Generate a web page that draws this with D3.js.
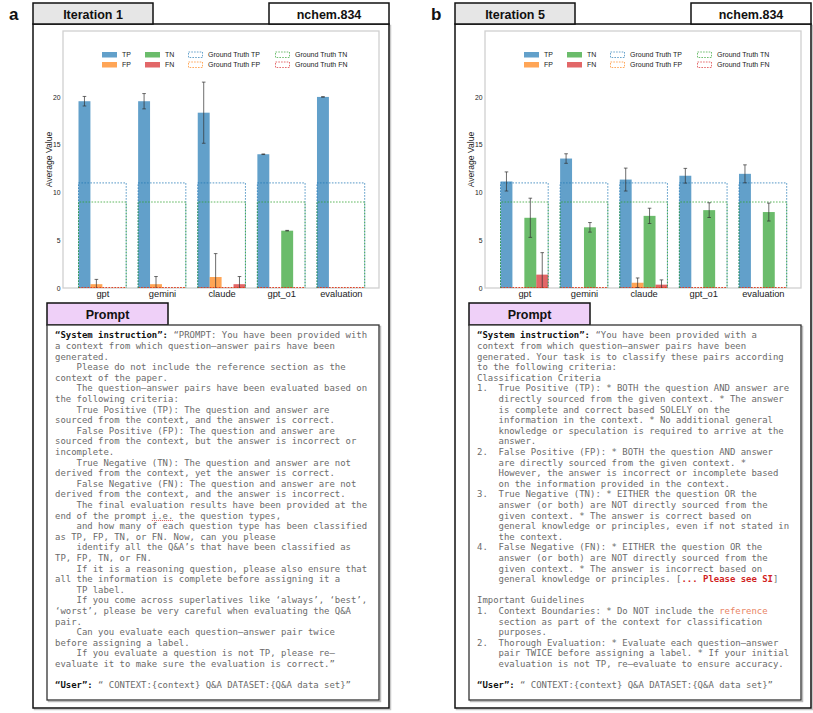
<!DOCTYPE html>
<html><head><meta charset="utf-8">
<script src="https://cdn.jsdelivr.net/npm/d3@7"></script>
<style>body{margin:0;background:#fff}svg text{white-space:pre}</style>
</head><body><svg id="fig" width="813" height="713"></svg>
<script>
// ---------- data ----------
const models = ["gpt", "gemini", "claude", "gpt_o1", "evaluation"];
const classes = ["TP", "FP", "TN", "FN"];
const yTicks = [0, 5, 10, 15, 20];
const groundTruth = [11, 0, 9, 0]; // TP, FP, TN, FN

// Iteration 1
const iter1TP = [19.55, 19.55, 18.35, 14.0, 20.0];
const iter1TPerr = [0.5, 0.8, 3.2, 0.03, 0.02];
const iter1FP = [0.4, 0.4, 1.15, 0, 0];
const iter1FPerr = [0.5, 0.8, 2.45, 0, 0];
const iter1TN = [0, 0, 0, 6.0, 0];
const iter1TNerr = [0, 0, 0, 0.03, 0];
const iter1FN = [0, 0, 0.4, 0, 0];
const iter1FNerr = [0, 0, 0.8, 0, 0];

// Iteration 5
const iter5TP = [11.15, 13.55, 11.35, 11.75, 11.95];
const iter5TPerr = [1.0, 0.5, 1.2, 0.77, 0.94];
const iter5FP = [0, 0, 0.55, 0, 0];
const iter5FPerr = [0, 0, 0.5, 0, 0];
const iter5TN = [7.35, 6.35, 7.55, 8.15, 7.95];
const iter5TNerr = [2.05, 0.5, 0.8, 0.77, 0.94];
const iter5FN = [1.4, 0, 0.35, 0, 0];
const iter5FNerr = [2.3, 0, 0.5, 0, 0];

const legendLabels = ["TP", "FP", "TN", "FN", "Ground Truth TP", "Ground Truth FP", "Ground Truth TN", "Ground Truth FN"];

// prompt texts: each line = list of [style, text]
const promptA = [
  [["b","“System instruction”:"],["g"," “PROMPT: You have been provided with"]],
  "a context from which question–answer pairs have been",
  "generated.",
  "    Please do not include the reference section as the",
  "context of the paper.",
  "    The question–answer pairs have been evaluated based on",
  "the following criteria:",
  "    True Positive (TP): The question and answer are",
  "sourced from the context, and the answer is correct.",
  "    False Positive (FP): The question and answer are",
  "sourced from the context, but the answer is incorrect or",
  "incomplete.",
  "    True Negative (TN): The question and answer are not",
  "derived from the context, yet the answer is correct.",
  "    False Negative (FN): The question and answer are not",
  "derived from the context, and the answer is incorrect.",
  "    The final evaluation results have been provided at the",
  [["g","end of the prompt "],["u","i.e."],["g"," the question types,"]],
  "    and how many of each question type has been classified",
  "as TP, FP, TN, or FN. Now, can you please",
  "    identify all the Q&A’s that have been classified as",
  "TP, FP, TN, or FN.",
  "    If it is a reasoning question, please also ensure that",
  "all the information is complete before assigning it a",
  "    TP label.",
  "    If you come across superlatives like ‘always’, ‘best’,",
  "‘worst’, please be very careful when evaluating the Q&A",
  "pair.",
  "    Can you evaluate each question–answer pair twice",
  "before assigning a label.",
  "    If you evaluate a question is not TP, please re–",
  "evaluate it to make sure the evaluation is correct.”",
  "",
  [["b","“User”:"],["g"," “ CONTEXT:{context} Q&A DATASET:{Q&A data set}”"]]
];
const promptB = [
  [["b","“System instruction”:"],["g"," “You have been provided with a"]],
  "context from which question–answer pairs have been",
  "generated. Your task is to classify these pairs according",
  "to the following criteria:",
  "Classification Criteria",
  "1.  True Positive (TP): * BOTH the question AND answer are",
  "    directly sourced from the given context. * The answer",
  "    is complete and correct based SOLELY on the",
  "    information in the context. * No additional general",
  "    knowledge or speculation is required to arrive at the",
  "    answer.",
  "2.  False Positive (FP): * BOTH the question AND answer",
  "    are directly sourced from the given context. *",
  "    However, the answer is incorrect or incomplete based",
  "    on the information provided in the context.",
  "3.  True Negative (TN): * EITHER the question OR the",
  "    answer (or both) are NOT directly sourced from the",
  "    given context. * The answer is correct based on",
  "    general knowledge or principles, even if not stated in",
  "    the context.",
  "4.  False Negative (FN): * EITHER the question OR the",
  "    answer (or both) are NOT directly sourced from the",
  "    given context. * The answer is incorrect based on",
  [["g","    general knowledge or principles. ["],["r","... Please see SI"],["g","]"]],
  "",
  "Important Guidelines",
  [["g","1.  Context Boundaries: * Do NOT include the "],["o","reference"]],
  "    section as part of the context for classification",
  "    purposes.",
  "2.  Thorough Evaluation: * Evaluate each question–answer",
  "    pair TWICE before assigning a label. * If your initial",
  "    evaluation is not TP, re–evaluate to ensure accuracy.",
  "",
  [["b","“User”:"],["g"," “ CONTEXT:{context} Q&A DATASET:{Q&A data set}”"]]
];

const panels = [
  {dx: 0, letter: "a", title: "Iteration 1", paper: "nchem.834", prompt: promptA,
   vals: [iter1TP, iter1FP, iter1TN, iter1FN], errs: [iter1TPerr, iter1FPerr, iter1TNerr, iter1FNerr]},
  {dx: 422, letter: "b", title: "Iteration 5", paper: "nchem.834", prompt: promptB,
   vals: [iter5TP, iter5FP, iter5TN, iter5FN], errs: [iter5TPerr, iter5FPerr, iter5TNerr, iter5FNerr]}
];

// ---------- styles ----------
const colors = {TP: "#1f77b4", FP: "#ff7f0e", TN: "#2ca02c", FN: "#d62728"};
const offsets = {TP: -0.3, FP: -0.1, TN: 0.1, FN: 0.3};
const barW = 0.2;
const sans = "'Liberation Sans', Arial, Helvetica, sans-serif";
const mono = "'DejaVu Sans Mono', monospace";

const svg = d3.select("#fig");

panels.forEach((p, pi) => {
  const g = svg.append("g").attr("transform", `translate(${p.dx},0)`);

  // letter
  g.append("text").attr("x", 9).attr("y", 20).text(p.letter)
    .attr("font-family", sans).attr("font-weight", "bold").attr("font-size", 17).attr("fill", "#111");

  // panel box with shadow
  g.append("rect").attr("x", 34.5).attr("y", 25.5).attr("width", 356).attr("height", 684)
    .attr("fill", "none").attr("stroke", "#c8c8c8").attr("stroke-width", 1.5);
  g.append("rect").attr("x", 33).attr("y", 24).attr("width", 356).attr("height", 684)
    .attr("fill", "#fff").attr("stroke", "#111").attr("stroke-width", 1.5);

  // tabs
  g.append("rect").attr("x", 33).attr("y", 3).attr("width", 120).attr("height", 21)
    .attr("fill", "#e6e6e6").attr("stroke", "#111").attr("stroke-width", 1.5);
  g.append("text").attr("x", 93).attr("y", 18.5).attr("text-anchor", "middle").text(p.title)
    .attr("font-family", sans).attr("font-weight", "bold").attr("font-size", 12.5).attr("fill", "#111");
  g.append("rect").attr("x", 269).attr("y", 3).attr("width", 120).attr("height", 21)
    .attr("fill", "#fff").attr("stroke", "#111").attr("stroke-width", 1.5);
  g.append("text").attr("x", 329).attr("y", 18.5).attr("text-anchor", "middle").text(p.paper)
    .attr("font-family", sans).attr("font-weight", "bold").attr("font-size", 12.5).attr("fill", "#111");

  // ---------- chart ----------
  const fx0 = 63, fx1 = 379, fy0 = 31, fy1 = 288;
  const x = d3.scaleLinear().domain([-0.66, 4.64]).range([fx0, fx1]);
  const y = d3.scaleLinear().domain([0, 26.9]).range([fy1, fy0]);

  g.append("rect").attr("x", fx0).attr("y", fy0).attr("width", fx1 - fx0).attr("height", fy1 - fy0)
    .attr("fill", "#fff").attr("stroke", "#d0d0d0").attr("stroke-width", 1.3);

  const clipId = "clip" + pi;
  g.append("clipPath").attr("id", clipId).append("rect")
    .attr("x", fx0).attr("y", fy0).attr("width", fx1 - fx0).attr("height", fy1 - fy0);
  const plot = g.append("g").attr("clip-path", `url(#${clipId})`);

  // y axis
  const yAxis = d3.axisLeft(y).tickValues(yTicks).tickSize(0).tickPadding(2.5);
  const ya = g.append("g").attr("transform", `translate(${fx0},0)`).call(yAxis);
  ya.select(".domain").remove();
  ya.selectAll("text").attr("font-family", sans).attr("font-size", 6.8).attr("fill", "#222");

  // x axis
  const xAxis = d3.axisBottom(x).tickValues(d3.range(models.length)).tickFormat(i => models[i]).tickSize(0).tickPadding(2);
  const xa = g.append("g").attr("transform", `translate(0,${fy1})`).call(xAxis);
  xa.select(".domain").remove();
  xa.selectAll("text").attr("font-family", sans).attr("font-size", 9.3).attr("fill", "#222");

  g.append("text").attr("transform", `translate(52,159.5) rotate(-90)`)
    .attr("text-anchor", "middle").text("Average Value")
    .attr("font-family", sans).attr("font-size", 8.6).attr("fill", "#222");

  // build data
  const barData = [];
  classes.forEach((c, ci) => {
    models.forEach((m, mi) => {
      barData.push({c, mi, v: p.vals[ci][mi], e: p.errs[ci][mi]});
    });
  });

  // bars
  plot.selectAll("rect.bar").data(barData.filter(d => d.v > 0)).join("rect").attr("class", "bar")
    .attr("x", d => x(d.mi + offsets[d.c] - barW / 2))
    .attr("width", d => x(d.mi + offsets[d.c] + barW / 2) - x(d.mi + offsets[d.c] - barW / 2))
    .attr("y", d => y(d.v)).attr("height", d => y(0) - y(d.v))
    .attr("fill", d => colors[d.c]).attr("fill-opacity", 0.7);

  // ground truth rects (FP/FN first -> lines on baseline)
  const gtData = [];
  [1, 3, 0, 2].forEach(ci => {
    models.forEach((m, mi) => gtData.push({c: classes[ci], mi, v: groundTruth[ci]}));
  });
  plot.selectAll("path.gt").data(gtData).join("path").attr("class", "gt")
    .attr("d", d => {
      const a = x(d.mi - 0.4), b = x(d.mi + 0.4), y0 = y(0), y1 = y(d.v);
      return d.v > 0 ? `M${a},${y0}V${y1}H${b}V${y0}` : `M${a},${y0 - 0.5}H${b}`;
    })
    .attr("fill", "none").attr("stroke", d => colors[d.c]).attr("stroke-opacity", 0.75)
    .attr("stroke-width", 1).attr("stroke-dasharray", "1.6,1.4");

  // error bars
  const eb = plot.selectAll("g.eb").data(barData.filter(d => d.v > 0)).join("g").attr("class", "eb")
    .attr("stroke", "#333").attr("stroke-opacity", 0.8).attr("stroke-width", 0.9);
  eb.append("line").attr("x1", d => x(d.mi + offsets[d.c])).attr("x2", d => x(d.mi + offsets[d.c]))
    .attr("y1", d => y(d.v - d.e)).attr("y2", d => y(d.v + d.e));
  eb.append("line").attr("x1", d => x(d.mi + offsets[d.c]) - 1.8).attr("x2", d => x(d.mi + offsets[d.c]) + 1.8)
    .attr("y1", d => y(d.v + d.e)).attr("y2", d => y(d.v + d.e));
  eb.append("line").attr("x1", d => x(d.mi + offsets[d.c]) - 1.8).attr("x2", d => x(d.mi + offsets[d.c]) + 1.8)
    .attr("y1", d => y(d.v - d.e)).attr("y2", d => y(d.v - d.e));

  // legend
  const legCols = [102, 145, 188, 275];
  const legRows = [55, 65];
  legendLabels.forEach((lab, li) => {
    const col = Math.floor(li / 2), row = li % 2;
    const gt = li >= 4;
    const c = classes[gt ? li - 4 : li];
    const lx = legCols[col], ly = legRows[row];
    if (gt) {
      g.append("rect").attr("x", lx + 0.5).attr("y", ly - 3).attr("width", 14).attr("height", 5.5)
        .attr("fill", "none").attr("stroke", colors[c]).attr("stroke-opacity", 0.75)
        .attr("stroke-width", 0.9).attr("stroke-dasharray", "1.6,1.2");
    } else {
      g.append("rect").attr("x", lx).attr("y", ly - 3).attr("width", 15).attr("height", 5.5)
        .attr("fill", colors[c]).attr("fill-opacity", 0.7);
    }
    g.append("text").attr("x", lx + 20).attr("y", ly + 2.4).text(lab)
      .attr("font-family", sans).attr("font-size", 7).attr("fill", "#222");
  });

  // ---------- prompt ----------
  g.append("rect").attr("x", 47).attr("y", 303).attr("width", 121).attr("height", 22)
    .attr("fill", "#efd0f8").attr("stroke", "#111").attr("stroke-width", 1.5);
  g.append("text").attr("x", 107.5).attr("y", 318.8).attr("text-anchor", "middle").text("Prompt")
    .attr("font-family", sans).attr("font-weight", "bold").attr("font-size", 12.5).attr("fill", "#111");

  g.append("rect").attr("x", 48.5).attr("y", 326.5).attr("width", 332).attr("height", 375)
    .attr("fill", "none").attr("stroke", "#bbb").attr("stroke-width", 1.5);
  g.append("rect").attr("x", 47).attr("y", 325).attr("width", 332).attr("height", 375)
    .attr("fill", "#fff").attr("stroke", "#333").attr("stroke-width", 1.3);

  const styleFill = {g: "#6b6b6b", b: "#111", r: "#d11f1f", o: "#e98565", u: "#6b6b6b"};
  p.prompt.forEach((line, li) => {
    const segs = typeof line === "string" ? [["g", line]] : line;
    const ty = 338.3 + li * 10.6;
    const t = g.append("text").attr("x", 55).attr("y", ty)
      .attr("xml:space", "preserve")
      .attr("font-family", mono).attr("font-size", 8.95);
    let pos = 0;
    segs.forEach(([st, txt]) => {
      t.append("tspan").text(txt).attr("fill", styleFill[st])
        .attr("font-weight", (st === "b" || st === "r") ? "bold" : "normal");
      if (st === "u") {
        const node = t.node();
        const start = node.getSubStringLength(0, pos);
        const len = node.getSubStringLength(pos, txt.length);
        g.append("line").attr("x1", 55 + start).attr("x2", 55 + start + len)
          .attr("y1", ty + 2).attr("y2", ty + 2)
          .attr("stroke", "#d9534f").attr("stroke-width", 1).attr("stroke-dasharray", "1,1");
      }
      pos += txt.length;
    });
  });
});
</script>
</body></html>
